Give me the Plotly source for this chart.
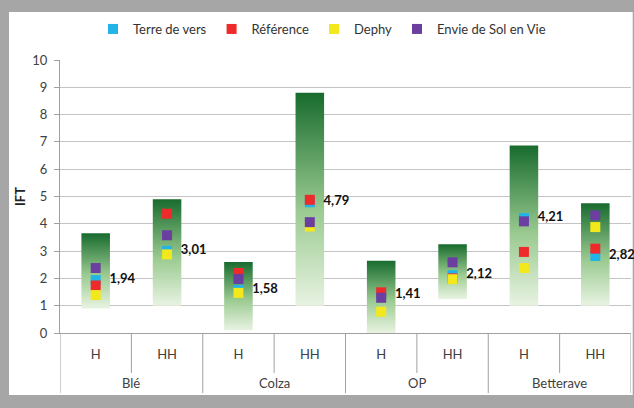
import plotly.graph_objects as go

groups = ["Blé", "Blé", "Colza", "Colza", "OP", "OP", "Betterave", "Betterave"]
subs = ["H", "HH", "H", "HH", "H", "HH", "H", "HH"]

bar_low = [0.9, 1.0, 0.1, 1.0, 0.0, 1.25, 1.0, 1.0]
bar_high = [3.65, 4.9, 2.6, 8.8, 2.65, 3.25, 6.87, 4.75]

terre_de_vers = [1.94, 3.01, 1.58, 4.79, 1.41, 2.12, 4.21, 2.82]
reference = [1.74, 4.37, 2.20, 4.88, 1.49, 2.00, 2.97, 3.09]
dephy = [1.39, 2.88, 1.47, 3.90, 0.78, 1.97, 2.38, 3.88]
envie = [2.38, 3.58, 1.98, 4.06, 1.29, 2.59, 4.09, 4.31]

series = [
    ("Terre de vers", terre_de_vers, "#22b4e6"),
    ("Référence", reference, "#ee2a2a"),
    ("Dephy", dephy, "#f2e81c"),
    ("Envie de Sol en Vie", envie, "#6a3fa0"),
]

FONT = "Lato"
AXIS_GREY = "#a0a0a0"
idx = list(range(len(subs)))

fig = go.Figure()

# gradient floating bars
half = 0.2
green_scale = [[0, "#e8f3e2"], [0.45, "#9aca90"], [1, "#186b2e"]]
for i, lo, hi in zip(idx, bar_low, bar_high):
    fig.add_trace(go.Scatter(
        x=[i - half, i + half, i + half, i - half, i - half],
        y=[lo, lo, hi, hi, lo],
        mode="lines", line=dict(width=0),
        fill="toself",
        fillgradient=dict(type="vertical", colorscale=green_scale, start=lo, stop=hi),
        showlegend=False, hoverinfo="skip",
    ))

# square markers, labels on "Terre de vers"
for name, vals, color in series:
    if name == "Terre de vers":
        kw = dict(mode="markers+text",
                  text=["\u2002" + f"{v:.2f}".replace(".", ",") for v in vals],
                  textposition="middle right", cliponaxis=False,
                  textfont=dict(family=FONT, size=13, color="#111111", weight="bold"))
    else:
        kw = dict(mode="markers")
    fig.add_trace(go.Scatter(
        x=idx, y=vals, name=name,
        marker=dict(symbol="square", size=10, color=color, line=dict(width=0)),
        **kw,
    ))

# category dividers and group labels
shapes = [dict(type="rect", xref="paper", yref="paper", x0=-0.0893, x1=1.003,
               y0=-0.227, y1=1.176, fillcolor="white", line=dict(width=0), layer="below")]
annotations = []
for i in idx[:-1]:
    same_group = groups[i] == groups[i + 1]
    shapes.append(dict(type="line", xref="x", yref="paper", x0=i + 0.5, x1=i + 0.5,
                       y0=0, y1=-0.1465 if same_group else -0.22,
                       line=dict(color=AXIS_GREY, width=1)))
for xb in (idx[0] - 0.5, idx[-1] + 0.5):
    shapes.append(dict(type="line", xref="x", yref="paper", x0=xb, x1=xb, y0=0, y1=-0.22,
                       line=dict(color=AXIS_GREY, width=1)))
seen = []
for g in groups:
    if g not in seen:
        seen.append(g)
for g in seen:
    pos = [i for i in idx if groups[i] == g]
    annotations.append(dict(x=sum(pos) / len(pos), y=-0.183, xref="x", yref="paper",
                            text=g, showarrow=False, yanchor="middle",
                            font=dict(family=FONT, size=13, color="#404040")))

fig.update_layout(
    width=634, height=408,
    margin=dict(l=60, r=3, t=60, b=75, autoexpand=False),
    paper_bgcolor="#a6a6a6",
    plot_bgcolor="white",
    font=dict(family=FONT, size=12, color="#404040"),
    separators=", ",
    legend=dict(orientation="h", x=322 / 634, xref="container", xanchor="center",
                y=1 - 29 / 408, yref="container", yanchor="middle",
                font=dict(size=13, color="#333333"), bgcolor="rgba(0,0,0,0)",
                traceorder="normal", itemwidth=30),
    showlegend=True,
    xaxis=dict(range=[-0.5, 7.5], tickvals=idx, ticktext=subs, automargin=False,
               showgrid=False, zeroline=False, showline=True, linecolor=AXIS_GREY,
               ticks="", ticklabelstandoff=9,
               tickfont=dict(size=13, color="#404040")),
    yaxis=dict(range=[0, 10], dtick=1, showgrid=True, gridcolor="#c4c4c4", automargin=False,
               showline=True, linecolor=AXIS_GREY, ticks="outside", ticklen=5,
               tickcolor=AXIS_GREY, zeroline=False, ticklabelstandoff=4,
               tickfont=dict(size=13, color="#404040"),
               title=dict(text="<b>IFT</b>", font=dict(size=13, color="#222222"), standoff=3)),
    shapes=shapes,
    annotations=annotations,
)

fig.write_html("out.html", config={"displayModeBar": False},
               post_script="document.body.style.margin='0';")
